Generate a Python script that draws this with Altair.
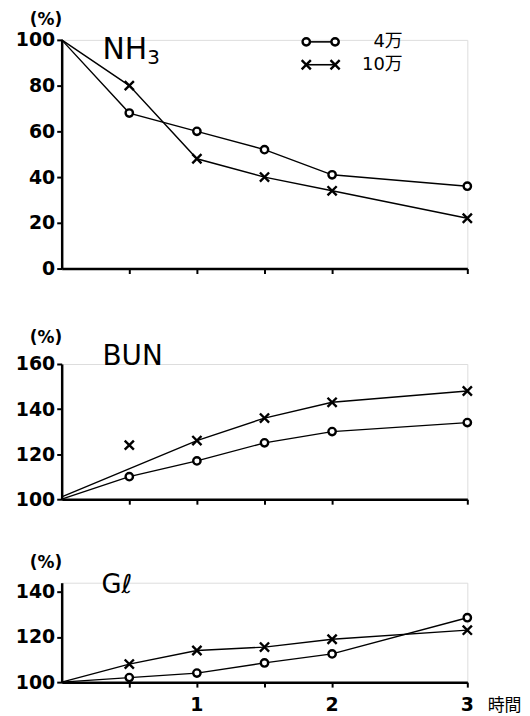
import altair as alt
import pandas as pd

# ---- data ----
hours = [0, 0.5, 1, 1.5, 2, 3]
series_names = ["4万", "10万"]

nh3_4man = [100, 68, 60, 52, 41, 36]
nh3_10man = [100, 80, 48, 40, 34, 22]

bun_4man = [100, 110, 117, 125, 130, 134]
bun_10man_marks = [None, 124, 126, 136, 143, 148]
bun_10man_line = [101, None, 126, 136, 143, 148]   # drawn line skips the 0.5 h mark

gl_4man = [100, 102, 104, 108.5, 112.5, 128.5]
gl_10man = [100, 108, 114, 115.5, 119, 123]

x_tick_values = [0.5, 1, 1.5, 2, 3]
x_label_values = [1, 2, 3]

XPATH = "M-1,-1L1,1M-1,1L1,-1"
NUM_FONT = "DejaVu Sans"
JP_FONT = "Noto Sans CJK JP"
MIX_FONT = "DejaVu Sans, Noto Sans CJK JP"
W = 408


def frames(line_4, marks_4, line_10, marks_10):
    line_rows, mark_rows = [], []
    for name, lv, mv in [("4万", line_4, marks_4), ("10万", line_10, marks_10)]:
        for h, v in zip(hours, lv):
            if v is not None:
                line_rows.append({"series": name, "hour": h, "value": v})
        for h, v in zip(hours, mv):
            if v is not None and h > 0:
                mark_rows.append({"series": name, "hour": h, "value": v})
    return pd.DataFrame(line_rows), pd.DataFrame(mark_rows)


dummy = pd.DataFrame({"d": [0]})
xlabel_df = pd.DataFrame({"hour": x_label_values, "label": [str(v) for v in x_label_values]})


def text_layer(txt, x, y, size, font=NUM_FONT, align="left", weight="normal"):
    return alt.Chart(dummy).mark_text(
        align=align, baseline="alphabetic", font=font, fontSize=size,
        fontWeight=weight, color="black"
    ).encode(x=alt.value(x), y=alt.value(y), text=alt.value(txt))


def panel(line_df, mark_df, ymin, ymax, yticks, height, title_y, bottom, extras):
    xaxis_kw = dict(
        values=x_tick_values, grid=False, domainColor="black", domainWidth=2.5,
        tickColor="black", tickWidth=2, tickSize=5, labels=False,
    )
    if bottom:
        xaxis_kw.update(
            title="時間", titleFont=JP_FONT, titleFontSize=17,
            titleFontWeight="normal", titleColor="black", titleAngle=0,
            titleAlign="left", titleBaseline="alphabetic",
            titleX=W + 20, titleY=29,
        )
    else:
        xaxis_kw.update(title="")
    xscale = alt.Scale(domain=[0, 3], nice=False, zero=False)
    xenc = alt.X("hour:Q", scale=xscale, axis=alt.Axis(**xaxis_kw))
    yenc = alt.Y("value:Q", scale=alt.Scale(domain=[ymin, ymax], nice=False, zero=False),
                 axis=alt.Axis(
                     values=yticks, format="d", grid=False,
                     domainColor="black", domainWidth=2.5,
                     tickColor="black", tickWidth=2, tickSize=5,
                     labelFont=NUM_FONT, labelFontSize=19, labelFontWeight="bold",
                     labelColor="black", labelPadding=2,
                     title="(%)", titleFont=NUM_FONT, titleFontSize=17,
                     titleFontWeight="bold", titleColor="black", titleAngle=0,
                     titleAlign="right", titleBaseline="bottom",
                     titleX=0, titleY=title_y,
                 ))
    lines = alt.Chart(line_df).mark_line(color="black", strokeWidth=1.4).encode(
        x=xenc, y=yenc, detail="series:N"
    )
    pts = alt.Chart(mark_df).mark_point(
        fill="white", stroke="black", strokeWidth=2.4, opacity=1, fillOpacity=1
    ).encode(
        x=xenc, y=yenc,
        shape=alt.Shape("series:N",
                        scale=alt.Scale(domain=series_names, range=["circle", XPATH]),
                        legend=None),
        size=alt.Size("series:N",
                      scale=alt.Scale(domain=series_names, range=[55, 85]),
                      legend=None),
    )
    layers = [lines, pts]
    if bottom:
        layers.append(
            alt.Chart(xlabel_df).mark_text(
                align="center", baseline="alphabetic", font=NUM_FONT, fontSize=19,
                fontWeight="bold", color="black"
            ).encode(x=alt.X("hour:Q", scale=xscale), y=alt.value(height + 29),
                     text="label:N")
        )
    return alt.layer(*layers, *extras).properties(width=W, height=height)


# legend for the top panel
def legend_item(shape, size, x1, x2, y, label):
    rule = alt.Chart(dummy).mark_rule(color="black", strokeWidth=1.6).encode(
        x=alt.value(x1), x2=alt.value(x2), y=alt.value(y))
    p1 = alt.Chart(dummy).mark_point(shape=shape, fill="white", stroke="black",
                                     strokeWidth=2.4, size=size, opacity=1).encode(
        x=alt.value(x1), y=alt.value(y))
    p2 = alt.Chart(dummy).mark_point(shape=shape, fill="white", stroke="black",
                                     strokeWidth=2.4, size=size, opacity=1).encode(
        x=alt.value(x2), y=alt.value(y))
    t = alt.Chart(dummy).mark_text(align="right", baseline="middle", font=MIX_FONT,
                                   fontSize=18, color="black").encode(
        x=alt.value(343), y=alt.value(y), text=alt.value(label))
    return [rule, p1, p2, t]


nh3_line, nh3_marks = frames(nh3_4man, nh3_4man, nh3_10man, nh3_10man)
bun_line, bun_marks = frames(bun_4man, bun_4man, bun_10man_line, bun_10man_marks)
gl_line, gl_marks = frames(gl_4man, gl_4man, gl_10man, gl_10man)

p1_extras = [text_layer("NH", 41, 19, 30), text_layer("3", 86, 24, 20)]
p1_extras += legend_item("circle", 55, 246, 275, 2, "4万")
p1_extras += legend_item(XPATH, 85, 246, 275, 25, "10万")

p1 = panel(nh3_line, nh3_marks, 0, 100, [0, 20, 40, 60, 80, 100], 230, -11, False, p1_extras)
p2 = panel(bun_line, bun_marks, 100, 160, [100, 120, 140, 160], 136, -18, False,
           [text_layer("BUN", 41, 1, 28)])
p3 = panel(gl_line, gl_marks, 100, 144, [100, 120, 140], 100, -11, True,
           [text_layer("Gℓ", 40, 10, 26, font="DejaVu Sans")])

chart = alt.vconcat(
    p1,
    alt.vconcat(p2, p3, spacing=84, bounds="flush"),
    spacing=96, bounds="flush",
).properties(
    padding={"left": 6, "top": 0, "right": 0, "bottom": 0}
).configure_view(strokeOpacity=0).configure(background="white")

chart.save("out.html", embed_options={"renderer": "svg", "actions": False})
